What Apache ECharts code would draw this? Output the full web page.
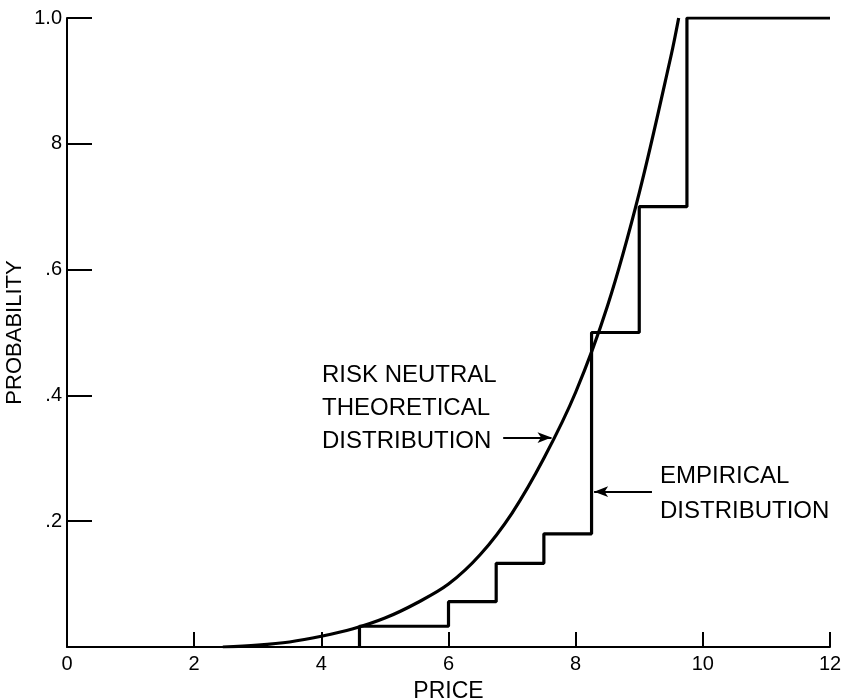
<!DOCTYPE html>
<html>
<head>
<meta charset="utf-8">
<script src="https://cdn.jsdelivr.net/npm/echarts@6/dist/echarts.min.js"></script>
<style>
html,body{margin:0;padding:0;background:#fff;}
#c{width:841px;height:700px;}
</style>
</head>
<body>
<div id="c"></div>
<script>
// ---- data ----
const xTicks = [0, 2, 4, 6, 8, 10, 12];
const yTickLabels = {0.2: '.2', 0.4: '.4', 0.6: '.6', 0.8: '8', 1: '1.0'};

// risk neutral theoretical distribution
const theoX = [2.45, 3.0, 3.5, 4.0, 4.5, 5.0, 5.5, 6.0, 6.5, 7.0, 7.5, 8.0, 8.5, 9.0, 9.5, 9.62];
const theoY = [0, 0.003, 0.008, 0.017, 0.029, 0.046, 0.070, 0.100, 0.147, 0.213, 0.300, 0.405, 0.542, 0.722, 0.940, 1.0];

// empirical distribution: step positions and level just before each step
const empX = [4.6, 6.0, 6.75, 7.5, 8.25, 9.0, 9.75, 12];
const empY = [0, 0.033, 0.072, 0.133, 0.18, 0.5, 0.7, 1.0];

const FONT = 'Liberation Sans';

const chart = echarts.init(document.getElementById('c'), null, {renderer: 'canvas'});
chart.setOption({
  animation: false,
  backgroundColor: '#fff',
  grid: {left: 67, right: 11, top: 18, bottom: 53, containLabel: false, outerBoundsMode: 'none'},
  xAxis: {
    type: 'value', min: 0, max: 12, interval: 2,
    name: 'PRICE', nameLocation: 'middle', nameGap: 33, nameMoveOverlap: false,
    nameTextStyle: {fontFamily: FONT, fontSize: 23, color: '#000'},
    axisLine: {show: true, lineStyle: {color: '#000', width: 2}},
    axisTick: {show: true, inside: true, length: 15, lineStyle: {color: '#000', width: 2}},
    axisLabel: {fontFamily: FONT, fontSize: 20, color: '#000', margin: 7,
      formatter: v => xTicks.includes(v) ? String(v) : ''},
    splitLine: {show: false}
  },
  yAxis: {
    type: 'value', min: 0, max: 1, interval: 0.2,
    name: 'PROBABILITY', nameLocation: 'middle', nameGap: 41, nameRotate: 90, nameMoveOverlap: false,
    nameTextStyle: {fontFamily: FONT, fontSize: 22, color: '#000'},
    axisLine: {show: true, lineStyle: {color: '#000', width: 2}},
    axisTick: {show: true, inside: true, length: 25, lineStyle: {color: '#000', width: 2}},
    axisLabel: {fontFamily: FONT, fontSize: 20, color: '#000', margin: 5,
      formatter: v => { const k = Math.round(v * 10) / 10; return yTickLabels[k] || ''; }},
    splitLine: {show: false}
  },
  series: [
    {
      type: 'line', name: 'theoretical', smooth: 0.35, symbol: 'none',
      data: theoX.map((x, i) => [x, theoY[i]]),
      lineStyle: {color: '#000', width: 3.2},
      markLine: {
        silent: true, symbol: ['none', 'arrow'], symbolSize: [8, 14],
        label: {show: false},
        lineStyle: {color: '#000', width: 1.8, type: 'solid'},
        data: [
          [{coord: [6.86, 0.333]}, {coord: [7.62, 0.333]}],
          [{coord: [9.2, 0.247]}, {coord: [8.29, 0.247]}]
        ]
      }
    },
    {
      type: 'line', name: 'empirical', step: 'start', symbol: 'none',
      data: empX.map((x, i) => [x, empY[i]]),
      lineStyle: {color: '#000', width: 3.2}
    }
  ],
  graphic: [
    {type: 'text', left: 322, top: 359, style: {text: 'RISK NEUTRAL\nTHEORETICAL\nDISTRIBUTION',
      font: '24px "Liberation Sans"', fill: '#000', lineHeight: 33}},
    {type: 'text', left: 660, top: 459, style: {text: 'EMPIRICAL\nDISTRIBUTION',
      font: '24px "Liberation Sans"', fill: '#000', lineHeight: 35}}
  ]
});
</script>
</body>
</html>
